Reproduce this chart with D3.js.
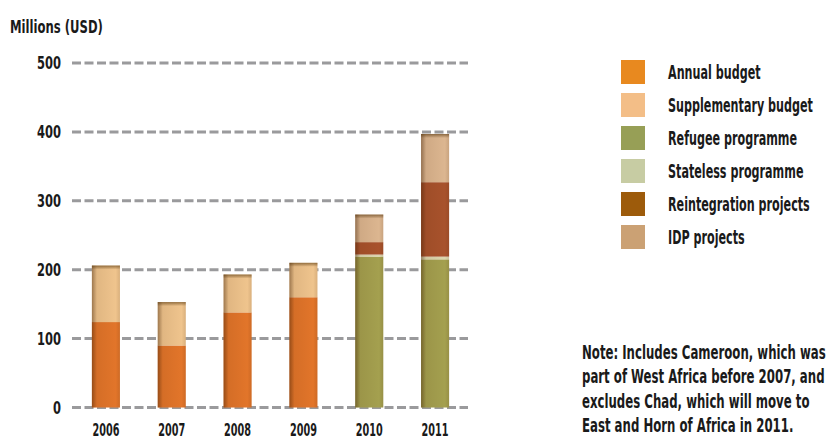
<!DOCTYPE html>
<html><head><meta charset="utf-8">
<script src="https://cdn.jsdelivr.net/npm/d3@7"></script>
<style>
html,body{margin:0;padding:0;background:#fff;}
svg text{font-family:"DejaVu Sans",sans-serif;font-weight:bold;fill:#1a1a1a;}
</style></head>
<body><svg id="c" width="827" height="441"></svg>
<script>
const years = ["2006","2007","2008","2009","2010","2011"];
const seriesNames = ["Annual budget","Supplementary budget","Refugee programme","Stateless programme","Reintegration projects","IDP projects"];
const annual        = [124, 90, 138, 160, 0, 0];
const supplementary = [82, 63, 55, 50, 0, 0];
const refugee       = [0, 0, 0, 0, 219, 215];
const stateless     = [0, 0, 0, 0, 3, 4];
const reintegration = [0, 0, 0, 0, 18, 108];
const idp           = [0, 0, 0, 0, 40, 70];
const yTicks = [0, 100, 200, 300, 400, 500];
const barColors    = ["#E2752A","#EFC48D","#A4A04F","#DDD6AE","#A8522C","#DCB690"];
const legendColors = ["#E8891F","#F3BE87","#979F56","#C7CCA3","#9D5B0B","#CBA174"];
const noteLines = ["Note: Includes Cameroon, which was","part of West Africa before 2007, and","excludes Chad, which will move to","East and Horn of Africa in 2011."];

const allSeries = [annual, supplementary, refugee, stateless, reintegration, idp];
const table = years.map((y,i)=>{const o={year:y}; seriesNames.forEach((s,k)=>o[s]=allSeries[k][i]); return o;});
const stacked = d3.stack().keys(seriesNames)(table);

const svg = d3.select("#c");
const x = d3.scaleBand().domain(years).range([73,468]).paddingInner(0.574).paddingOuter(0.287);
const y = d3.scaleLinear().domain([0,500]).range([407.5,63]);

const defs = svg.append("defs");
const g1 = defs.append("linearGradient").attr("id","lshade").attr("x1",0).attr("x2",1).attr("y1",0).attr("y2",0);
g1.append("stop").attr("offset","0").attr("stop-color","#3a1a00").attr("stop-opacity",0.45);
g1.append("stop").attr("offset","0.18").attr("stop-color","#3a1a00").attr("stop-opacity",0.08);
g1.append("stop").attr("offset","0.85").attr("stop-color","#3a1a00").attr("stop-opacity",0);
g1.append("stop").attr("offset","1").attr("stop-color","#3a1a00").attr("stop-opacity",0.12);
const g2 = defs.append("linearGradient").attr("id","tshade").attr("x1",0).attr("x2",0).attr("y1",0).attr("y2",1);
g2.append("stop").attr("offset","0").attr("stop-color","#4a2a00").attr("stop-opacity",0.55);
g2.append("stop").attr("offset","1").attr("stop-color","#4a2a00").attr("stop-opacity",0);

function condense(sel, f){
  sel.each(function(){
    const t = d3.select(this);
    const x0 = +t.attr("x") || 0;
    t.attr("x", x0 / f).attr("transform", `scale(${f},1)`);
  });
}
function factorFor(node, target){ return Math.min(1, target / node.getComputedTextLength()); }

const title = svg.append("text").attr("x",10).attr("y",33).style("font-size","18px").text("Millions (USD)");
condense(title, factorFor(title.node(), 93));

const grid = svg.append("g");
grid.selectAll("line").data(yTicks).join("line")
  .attr("x1",72).attr("x2",468).attr("y1",d=>y(d)).attr("y2",d=>y(d))
  .attr("stroke","#9a9a9c").attr("stroke-width",3).attr("stroke-dasharray","9,3.5");

const yt = svg.append("g").selectAll("text").data(yTicks).join("text")
  .attr("x",61).attr("y",d=>y(d)).attr("dy","0.36em").attr("text-anchor","end").style("font-size","18px").text(d3.format("d"));
condense(yt, factorFor(yt.filter(d=>d===500).node(), 24));

svg.append("g").selectAll("g").data(stacked).join("g")
  .attr("fill",(d,i)=>barColors[i])
  .selectAll("rect").data(d=>d).join("rect")
  .attr("x",d=>x(d.data.year)).attr("width",x.bandwidth())
  .attr("y",d=>y(d[1])).attr("height",d=>Math.max(0,y(d[0])-y(d[1])));

const tops = years.map((yr,i)=>({year:yr,total:d3.sum(allSeries,s=>s[i])}));
const sh = svg.append("g");
sh.selectAll("rect.l").data(tops).join("rect").attr("class","l")
  .attr("x",d=>x(d.year)).attr("width",x.bandwidth())
  .attr("y",d=>y(d.total)).attr("height",d=>y(0)-y(d.total)).attr("fill","url(#lshade)");
sh.selectAll("rect.t").data(tops).join("rect").attr("class","t")
  .attr("x",d=>x(d.year)).attr("width",x.bandwidth())
  .attr("y",d=>y(d.total)).attr("height",4).attr("fill","url(#tshade)");

const xt = svg.append("g").selectAll("text").data(years).join("text")
  .attr("x",d=>x(d)+x.bandwidth()/2).attr("y",436).attr("text-anchor","middle").style("font-size","17px").text(d=>d);
condense(xt, factorFor(xt.node(), 27));

const lg = svg.append("g").attr("transform","translate(621,60)");
const li = lg.selectAll("g").data(seriesNames).join("g").attr("transform",(d,i)=>`translate(0,${i*33})`);
li.append("rect").attr("width",24).attr("height",24).attr("fill",(d,i)=>legendColors[i]);
const lt = li.append("text").attr("x",47).attr("y",12).attr("dy","0.36em").style("font-size","19px").text(d=>d);
condense(lt, factorFor(lt.filter(d=>d==="Supplementary budget").node(), 145));

const nt = svg.append("g").selectAll("text").data(noteLines).join("text")
  .attr("x",582).attr("y",(d,i)=>352+i*24.4).attr("dy","0.36em").style("font-size","19px").text(d=>d);
condense(nt, factorFor(nt.node(), 244));
</script></body></html>
